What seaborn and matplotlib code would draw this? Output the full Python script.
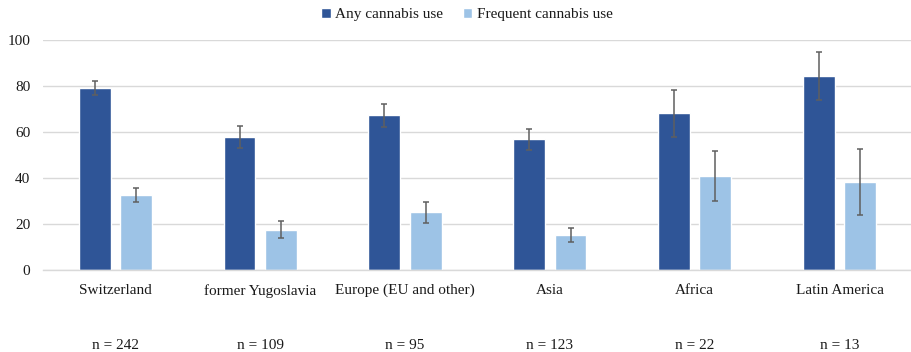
import matplotlib
matplotlib.use("Agg")
import matplotlib.pyplot as plt
import matplotlib.transforms as mtransforms
import numpy as np
import pandas as pd
import seaborn as sns

regions = ["Switzerland", "former Yugoslavia", "Europe (EU and other)", "Asia", "Africa", "Latin America"]
sample_sizes = ["n = 242", "n = 109", "n = 95", "n = 123", "n = 22", "n = 13"]
series_names = ["Any cannabis use", "Frequent cannabis use"]
any_use = [79.2, 57.7, 67.3, 56.8, 68.1, 84.5]
any_err = [2.9, 4.8, 5.0, 4.6, 10.2, 10.4]
frequent_use = [32.6, 17.4, 25.1, 15.2, 40.9, 38.3]
frequent_err = [3.1, 3.7, 4.6, 3.2, 10.8, 14.2]

colors = ["#2F5597", "#9DC3E6"]

df = pd.DataFrame({
    "region": regions * 2,
    "series": [series_names[0]] * len(regions) + [series_names[1]] * len(regions),
    "value": any_use + frequent_use,
    "err": any_err + frequent_err,
})

sns.set_theme(style="white")
plt.rcParams["font.family"] = ["Liberation Serif", "DejaVu Serif"]

fig = plt.figure(figsize=(9.12, 3.52), dpi=100)
ax = fig.add_axes([0.047, 0.233, 0.953, 0.653])

sns.barplot(data=df, x="region", y="value", hue="series", order=regions,
            hue_order=series_names, palette=colors, width=0.57, gap=0.23,
            errorbar=None, saturation=1, ax=ax)

# error bars centred on each bar
for container, errs in zip(ax.containers, [any_err, frequent_err]):
    xs = [p.get_x() + p.get_width() / 2 for p in container.patches]
    hs = [p.get_height() for p in container.patches]
    ax.errorbar(xs, hs, yerr=errs, fmt="none", ecolor="#5f5f5f",
                elinewidth=1.1, capsize=2.5, capthick=1.1, zorder=3)

ax.set_ylim(0, 100)
ax.set_xlim(-0.5, len(regions) - 0.5)
ax.set_yticks([0, 20, 40, 60, 80, 100])
ax.yaxis.grid(True, color="#d9d9d9", linewidth=1.0)
ax.set_axisbelow(True)
for side in ["left", "right", "top"]:
    ax.spines[side].set_visible(False)
ax.spines["bottom"].set_color("#d9d9d9")
ax.spines["bottom"].set_linewidth(1.0)
ax.set_xlabel("")
ax.set_ylabel("")
ax.tick_params(axis="both", length=0, labelsize=11, labelcolor="#1a1a1a")
ax.tick_params(axis="y", pad=9)
ax.tick_params(axis="x", pad=10)

# sample sizes below each region
trans = mtransforms.blended_transform_factory(ax.transData, ax.transAxes)
for i, label in enumerate(sample_sizes):
    ax.text(i, -0.33, label, transform=trans, ha="center", va="center",
            fontsize=11, color="#1a1a1a")

leg = ax.legend(loc="upper center", bbox_to_anchor=(0.488, 1.2), ncol=2,
                frameon=False, fontsize=11, handlelength=0.6, handleheight=0.6,
                handletextpad=0.3, columnspacing=1.3)
for t in leg.get_texts():
    t.set_color("#1a1a1a")

fig.savefig("out.png", dpi=100)
